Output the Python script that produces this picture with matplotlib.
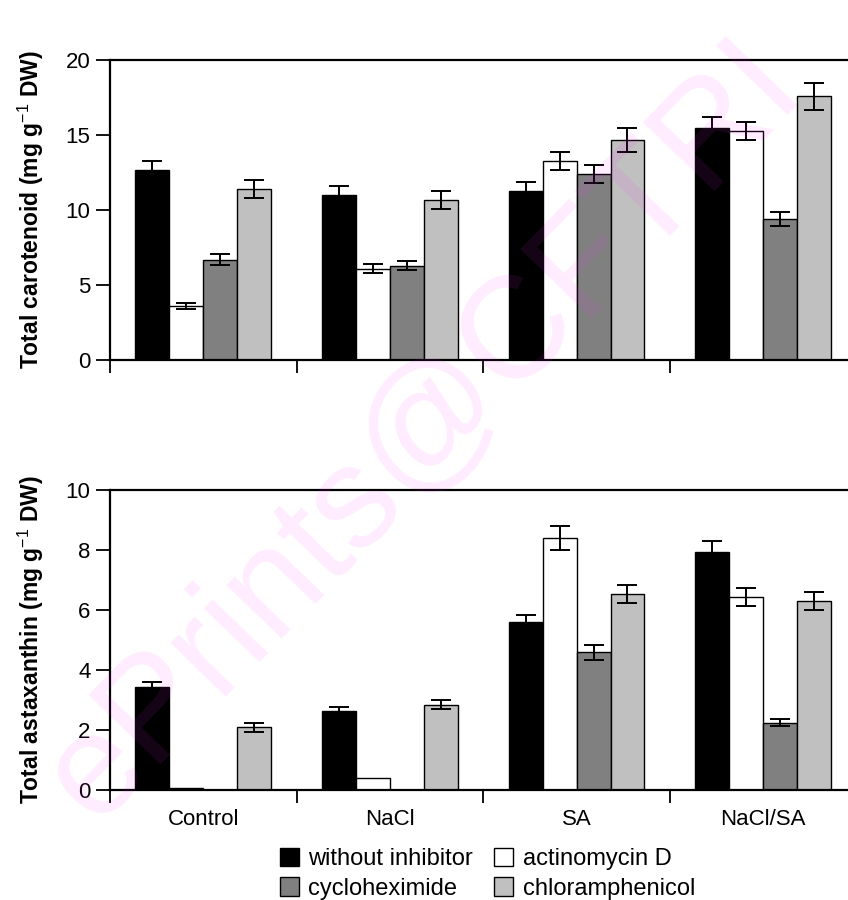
import matplotlib
matplotlib.use("Agg")
import matplotlib.pyplot as plt
import numpy as np
from matplotlib.patches import Patch

plt.rcParams['font.family'] = ['Liberation Sans', 'DejaVu Sans']
plt.rcParams['mathtext.fontset'] = 'custom'
plt.rcParams['mathtext.rm'] = 'Liberation Sans'
plt.rcParams['mathtext.bf'] = 'Liberation Sans:bold'

groups = ["Control", "NaCl", "SA", "NaCl/SA"]
series = ["without inhibitor", "actinomycin D", "cycloheximide", "chloramphenicol"]
colors = ["#000000", "#ffffff", "#808080", "#c0c0c0"]

carot = [
    [12.7, 11.0, 11.3, 15.5],
    [3.6, 6.1, 13.3, 15.3],
    [6.7, 6.3, 12.4, 9.4],
    [11.4, 10.7, 14.7, 17.6],
]
carot_err = [
    [0.6, 0.6, 0.6, 0.7],
    [0.2, 0.3, 0.6, 0.6],
    [0.35, 0.3, 0.6, 0.45],
    [0.6, 0.6, 0.8, 0.9],
]
asta = [
    [3.45, 2.65, 5.6, 7.95],
    [0.07, 0.4, 8.4, 6.45],
    [0.0, 0.0, 4.6, 2.25],
    [2.1, 2.85, 6.55, 6.3],
]
asta_err = [
    [0.15, 0.12, 0.25, 0.35],
    [0.0, 0.0, 0.4, 0.3],
    [0.0, 0.0, 0.25, 0.12],
    [0.15, 0.15, 0.3, 0.3],
]

fig = plt.figure(figsize=(8.48, 9.0), dpi=100)
ax1 = fig.add_axes([0.1297, 0.6, 1.01 - 0.1297, 0.3333])
ax2 = fig.add_axes([0.1297, 0.1222, 1.01 - 0.1297, 0.3333])

bw = 0.182
x = np.arange(len(groups))

def draw(ax, vals, errs, ymax, step, ylabel, xlabels):
    for i in range(4):
        pos = x + (i - 1.5) * bw
        ax.bar(pos, vals[i], bw, color=colors[i], edgecolor="black", linewidth=1.0, zorder=2)
        e = np.array(errs[i])
        m = e > 0
        ax.errorbar(pos[m], np.array(vals[i])[m], yerr=e[m], fmt="none", ecolor="black",
                    elinewidth=1.4, capsize=7, capthick=1.4, zorder=3)
    ax.set_xlim(-0.5, 3.5)
    ax.set_ylim(0, ymax)
    ax.set_yticks(np.arange(0, ymax + 0.01, step))
    ax.set_xticks([-0.5, 0.5, 1.5, 2.5])
    ax.set_xticklabels([])
    if xlabels:
        ax.set_xticks(x, minor=True)
        ax.set_xticklabels(groups, minor=True, fontsize=16)
        ax.tick_params(axis="x", which="minor", length=0, pad=14)
    ax.tick_params(axis="x", which="major", direction="out", length=9, width=1.3)
    ax.tick_params(axis="y", direction="out", length=10, width=1.3, labelsize=16, pad=4)
    ax.spines["right"].set_visible(False)
    for s in ["left", "bottom", "top"]:
        ax.spines[s].set_linewidth(1.6)
    ax.set_ylabel(ylabel, fontsize=16.5, fontweight="bold", labelpad=14)

draw(ax1, carot, carot_err, 20, 5, r"Total carotenoid (mg g$^{\mathrm{-1}}$ DW)", False)
draw(ax2, asta, asta_err, 10, 2, r"Total astaxanthin (mg g$^{\mathrm{-1}}$ DW)", True)

handles = [Patch(facecolor=c, edgecolor="black", linewidth=1.0) for c in colors]
order = [0, 2, 1, 3]
fig.legend([handles[k] for k in order], [series[k] for k in order], loc="center",
           bbox_to_anchor=(0.575, 0.029), ncol=2, frameon=False, fontsize=17,
           handlelength=0.8, handleheight=0.8, handletextpad=0.4,
           columnspacing=0.9, labelspacing=0.3, borderpad=0.1)

fig.text(0.5, 0.52, "ePrints@CFTRI", fontsize=104, color="#ff33ff", alpha=0.09,
         rotation=46, ha="center", va="center", zorder=10)

fig.savefig("out.png", dpi=100)
